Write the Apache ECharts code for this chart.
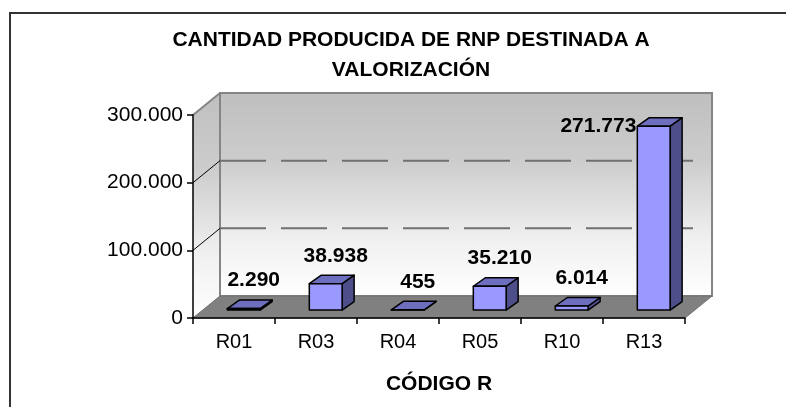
<!DOCTYPE html>
<html><head><meta charset="utf-8">
<script src="https://cdn.jsdelivr.net/npm/echarts@6/dist/echarts.min.js"></script>
<style>html,body{margin:0;padding:0;background:#fff}#c{width:786px;height:407px}</style>
</head><body><div id="c"></div>
<script>
// ---- data ----
const categories = ['R01', 'R03', 'R04', 'R05', 'R10', 'R13'];
const values = [2290, 38938, 455, 35210, 6014, 271773];
const yTicks = [0, 100000, 200000, 300000];
const titleText = 'CANTIDAD PRODUCIDA DE RNP DESTINADA A\nVALORIZACIÓN';
const axisTitle = 'CÓDIGO R';

// ---- style ----
const FONT = '"Liberation Sans", Arial, sans-serif';
const WALL_DX = 27, WALL_DY = -22;
const BAR_OFF_F = 0.36;
const BAR_DX = 12, BAR_DY = -8.5;
const BAR_W = 0.4;

function fmt(v) { return String(v).replace(/\B(?=(\d{3})+(?!\d))/g, '.'); }

const yMin = yTicks[0], yMax = yTicks[yTicks.length - 1];
const yInterval = yTicks[1] - yTicks[0];

function wallGradient() {
  return new echarts.graphic.LinearGradient(0, 0, 0, 1, [
    { offset: 0, color: '#bfbfbf' },
    { offset: 0.33, color: '#cccccc' },
    { offset: 0.72, color: '#f0f0f0' },
    { offset: 1, color: '#ffffff' }
  ]);
}

function renderWalls(params, api) {
  const band = api.size([1, 0])[0];
  const p0 = api.coord([0, yMin]);
  const left = p0[0] - band / 2;
  const right = api.coord([categories.length - 1, yMin])[0] + band / 2;
  const y0 = p0[1];
  const yT = api.coord([0, yMax])[1];
  const dx = WALL_DX, dy = WALL_DY;
  const children = [];
  children.push({ type: 'polygon', shape: { points: [[left, y0], [left, yT], [left + dx, yT + dy], [left + dx, y0 + dy]] },
    style: { fill: wallGradient(), stroke: null } });
  children.push({ type: 'rect', shape: { x: left + dx, y: yT + dy, width: right - left, height: y0 - yT },
    style: { fill: wallGradient(), stroke: '#858585', lineWidth: 2 } });
  children.push({ type: 'polygon', shape: { points: [[left, y0], [right, y0], [right + dx, y0 + dy], [left + dx, y0 + dy]] },
    style: { fill: '#808080', stroke: '#6e6e6e', lineWidth: 1 } });
  children.push({ type: 'line', shape: { x1: left, y1: yT, x2: left + dx, y2: yT + dy },
    style: { stroke: '#858585', lineWidth: 2 } });
  yTicks.slice(1, -1).forEach(t => {
    const y = api.coord([0, t])[1];
    children.push({ type: 'line', shape: { x1: left, y1: y, x2: left + dx, y2: y + dy },
      style: { stroke: '#000', lineWidth: 1 } });
    children.push({ type: 'line', shape: { x1: left + dx, y1: y + dy, x2: right + dx - 14, y2: y + dy },
      style: { stroke: '#707070', lineWidth: 2, lineDash: [46, 15] } });
  });
  return { type: 'group', children };
}

function renderBar(params, api) {
  const i = api.value(0), v = api.value(1);
  const band = api.size([1, 0])[0];
  const c = api.coord([i, 0]);
  const t = api.coord([i, v]);
  const w = band * BAR_W;
  const ox = WALL_DX * BAR_OFF_F, oy = WALL_DY * BAR_OFF_F;
  const cx = c[0] + ox;
  const x1 = cx - w / 2, x2 = cx + w / 2;
  const yb = c[1] + oy, yt = t[1] + oy;
  const bdx = BAR_DX, bdy = BAR_DY;
  const st = { stroke: '#000', lineWidth: 1.5, lineJoin: 'round' };
  const wallTop = api.coord([0, yMax])[1] + WALL_DY;
  let label;
  const ly = yt - 28;
  const font = 'bold 21px ' + FONT;
  if (ly - 8 < wallTop) {
    label = { type: 'text', style: { text: fmt(v), x: x1 - 1, y: yt, align: 'right', verticalAlign: 'middle', font, fill: '#000' } };
  } else {
    label = { type: 'text', style: { text: fmt(v), x: cx + 10, y: ly, align: 'center', verticalAlign: 'middle', font, fill: '#000' } };
  }
  return { type: 'group', children: [
    { type: 'polygon', shape: { points: [[x2, yt], [x2 + bdx, yt + bdy], [x2 + bdx, yb + bdy], [x2, yb]] },
      style: Object.assign({ fill: '#4e4e8a' }, st) },
    { type: 'polygon', shape: { points: [[x1, yt], [x2, yt], [x2 + bdx, yt + bdy], [x1 + bdx, yt + bdy]] },
      style: Object.assign({ fill: '#6e6ebf' }, st) },
    { type: 'polygon', shape: { points: [[x1, yt], [x2, yt], [x2, yb], [x1, yb]] },
      style: Object.assign({ fill: '#9999ff' }, st) },
    label
  ] };
}

const chart = echarts.init(document.getElementById('c'), null, { renderer: 'canvas' });
chart.setOption({
  animation: false,
  backgroundColor: '#ffffff',
  title: {
    text: titleText, left: 406, top: 20, textAlign: 'center',
    textStyle: { fontFamily: FONT, fontSize: 21, fontWeight: 'bold', color: '#000', lineHeight: 30 }
  },
  graphic: [{
    type: 'rect', shape: { x: 10, y: 13, width: 800, height: 420 },
    style: { fill: 'none', stroke: '#333', lineWidth: 2 }, z: 100
  }],
  grid: { left: 193, right: 101, top: 115, bottom: 89 },
  xAxis: {
    type: 'category', data: categories, z: 10,
    axisLine: { lineStyle: { color: '#000', width: 1.5 } },
    axisTick: { show: true, length: 6, lineStyle: { color: '#000', width: 1.5 } },
    axisLabel: { fontFamily: FONT, fontSize: 20, color: '#000', margin: 14 },
    name: axisTitle, nameLocation: 'middle', nameGap: 56,
    nameTextStyle: { fontFamily: FONT, fontSize: 21, fontWeight: 'bold', color: '#000' }
  },
  yAxis: {
    type: 'value', min: yMin, max: yMax, interval: yInterval, z: 10,
    axisLine: { show: true, lineStyle: { color: '#000', width: 1.5 } },
    axisTick: { show: true, length: 6, lineStyle: { color: '#000', width: 1.5 } },
    axisLabel: { fontFamily: FONT, fontSize: 21, color: '#000', margin: 10, formatter: v => fmt(v) },
    splitLine: { show: false }
  },
  series: [
    { type: 'custom', name: 'walls', data: [[0, 0]], renderItem: renderWalls, z: 1, silent: true },
    { type: 'custom', name: 'bars', data: values.map((v, i) => [i, v]), renderItem: renderBar, z: 3 }
  ]
});
</script></body></html>
